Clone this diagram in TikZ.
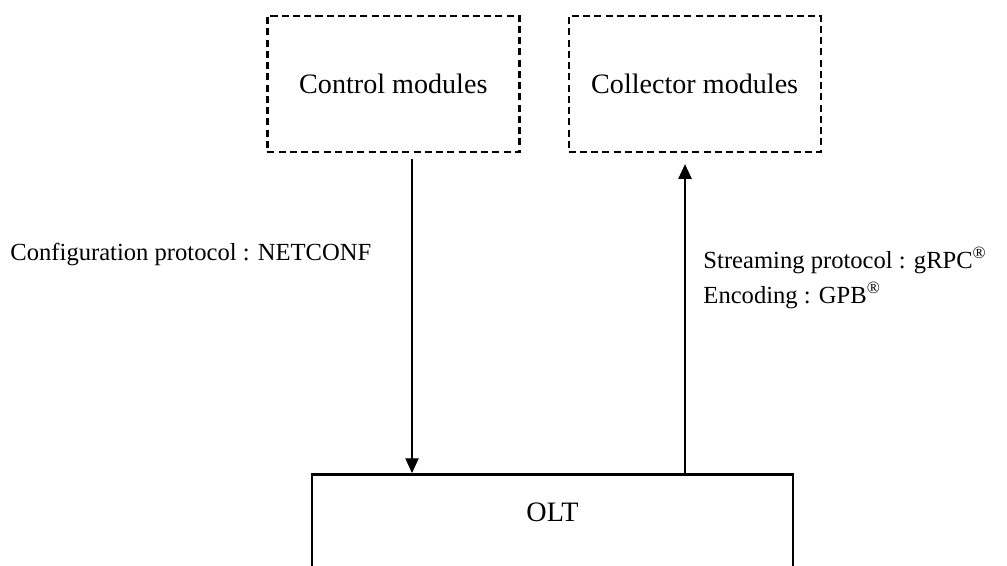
\documentclass[tikz,border=0pt]{standalone}
\usepackage{fontspec}
\setmainfont{Liberation Serif}
\usetikzlibrary{arrows.meta}
\begin{document}
\begin{tikzpicture}[
  module/.style={draw, line width=1pt, dash pattern=on 3pt off 1.8pt, minimum width=3.78cm, minimum height=2.04cm},
  flow/.style={line width=0.45pt, -{Triangle[width=0.2cm,length=0.22cm]}},
  proto/.style={anchor=base west, inner sep=0pt, font=\fontsize{10.5}{12}\selectfont},
  font=\fontsize{12}{14}\selectfont]
\useasboundingbox (0,0) rectangle (15.105,8.475);
\node[module] (ctrl) at (5.9,7.215) {Control modules};
\node[module] (coll) at (10.42,7.215) {Collector modules};
\begin{scope}
\clip (0,0) rectangle (15.105,8.475);
\node[draw, line width=1.2pt, minimum width=7.215cm, minimum height=2.2cm, anchor=north] (olt) at (8.2875,1.38) {};
\end{scope}
\node (oltname) at ([yshift=-0.585cm]olt.north) {OLT};
\coordinate (cfgx) at (6.18,0);
\coordinate (strx) at (10.275,0);
\draw[flow] ([yshift=-0.08cm]ctrl.south -| cfgx) -- (olt.north -| cfgx);
\draw[flow] (olt.north -| strx) -- ([yshift=-0.165cm]coll.south -| strx);
\node[proto] (cfg) at (0.15,4.575) {Configuration protocol : NETCONF};
\node[proto] (stream) at (10.545,4.455) {Streaming protocol : gRPC\textsuperscript{®}};
\node[proto] (enc) at (10.545,3.93) {Encoding : GPB\textsuperscript{®}};
\end{tikzpicture}
\end{document}
